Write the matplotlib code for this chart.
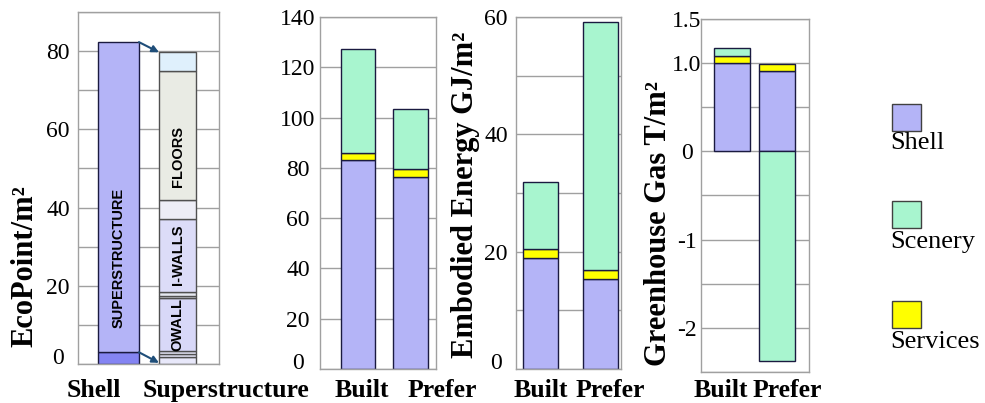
import matplotlib.pyplot as plt
from matplotlib.patches import Rectangle

plt.rcParams['font.family'] = ['Liberation Serif', 'DejaVu Serif']

# panel 1: EcoPoints of the shell and its superstructure breakdown
shell_parts = [3.0, 79.3]
shell_colors = ['#8484f2', '#b4b4f7']
super_parts = [1.9, 0.7, 0.6, 13.6, 0.5, 1.2, 18.7, 4.7, 33.1, 4.7]
super_colors = ['#e8e8fa', '#e8e8fa', '#e8e8fa', '#d8d8f8', '#e6e8f0', '#e6e8f0',
                '#dcdcf8', '#ededf6', '#e9ebe4', '#dff0fc']
super_labels = ['', '', '', 'OWALL', '', '', 'I-WALLS', '', 'FLOORS', '']
super_label_y = [0, 0, 0, 10.2, 0, 0, 28.0, 0, 53.0, 0]

# panels 2-4: Built vs Prefer
categories = ['Built', 'Prefer']
eco_shell = [83.2, 76.3]
eco_services = [2.8, 3.3]
eco_scenery = [41.3, 24.0]
energy_shell = [18.9, 15.3]
energy_services = [1.5, 1.6]
energy_scenery = [11.5, 42.3]
ghg_shell = [1.00, 0.91]
ghg_services = [0.08, 0.08]
ghg_scenery = [0.09, -2.38]

legend_names = ['Shell', 'Scenery', 'Services']
c_shell = '#b4b4f7'
c_scenery = '#a8f5cf'
c_services = '#ffff00'
legend_colors = [c_shell, c_scenery, c_services]

W, H = 985, 403
fig = plt.figure(figsize=(W / 100, H / 100), dpi=100)


def px_axes(x0, x1, y0, y1):
    return fig.add_axes([x0 / W, (H - y1) / H, (x1 - x0) / W, (y1 - y0) / H])


def style(ax, ticks, labels, pad_px):
    ax.set_yticks(ticks)
    ax.set_yticklabels(labels, fontsize=17)
    ax.tick_params(axis='y', length=0, pad=pad_px * 0.72)
    ax.tick_params(axis='x', length=0)
    ax.set_xticks([])
    for lab in ax.get_yticklabels():
        lab.set_horizontalalignment('center')
    # bottom label sits a little above its gridline, as in the original
    ax.get_yticklabels()[0].set_verticalalignment('baseline')
    ax.grid(axis='y', color='#a0a0a0', lw=1)
    ax.set_axisbelow(True)
    for s in ax.spines.values():
        s.set_color('#a0a0a0')
        s.set_linewidth(1)


def stack(ax, shell, services, scenery, width):
    x = range(len(categories))
    ax.bar(x, shell, width, color=c_shell, edgecolor='#1a1a40', lw=1)
    ax.bar(x, services, width, bottom=shell, color=c_services, edgecolor='#1a1a40', lw=1)
    bottoms = [a + b if s > 0 else 0 for a, b, s in zip(shell, services, scenery)]
    ax.bar(x, scenery, width, bottom=bottoms, color=c_scenery, edgecolor='#1a1a40', lw=1)


# ---- panel 1
ax1 = px_axes(78, 219, 12, 364)
bot = 0
for h, c in zip(shell_parts, shell_colors):
    ax1.bar(0, h, 0.695, bottom=bot, color=c, edgecolor='#1a1a40', lw=1)
    bot += h
ax1.text(0, 27, 'SUPERSTRUCTURE', rotation=90, ha='center', va='center',
         family='Liberation Sans', weight='bold', fontsize=10.5)
bot = 0
for h, c, lab, ly in zip(super_parts, super_colors, super_labels, super_label_y):
    ax1.bar(1, h, 0.627, bottom=bot, color=c, edgecolor='#505050', lw=1)
    if lab:
        ax1.text(1, ly, lab, rotation=90, ha='center', va='center',
                 family='Liberation Sans', weight='bold', fontsize=10.5)
    bot += h
arrow = dict(arrowstyle='-|>', color='#1f4e79', lw=1.5, shrinkA=0, shrinkB=0,
             mutation_scale=10)
ax1.annotate('', xy=(0.686, sum(super_parts)), xytext=(0.347, sum(shell_parts)),
             arrowprops=arrow)
ax1.annotate('', xy=(0.686, 0.3), xytext=(0.347, shell_parts[0]), arrowprops=arrow)
ax1.set_xlim(-0.686, 1.703)
ax1.set_ylim(0, 90)
style(ax1, range(0, 91, 10), ['0', '', '20', '', '40', '', '60', '', '80', ''], 20)

# ---- panel 2
ax2 = px_axes(320, 436, 17, 369)
stack(ax2, eco_shell, eco_services, eco_scenery, 0.66)
ax2.set_xlim(-0.724, 1.486)
ax2.set_ylim(0, 140)
style(ax2, range(0, 141, 20), [str(v) for v in range(0, 141, 20)], 22)

# ---- panel 3
ax3 = px_axes(516, 621, 17, 369)
stack(ax3, energy_shell, energy_services, energy_scenery, 0.58)
ax3.set_xlim(-0.408, 1.342)
ax3.set_ylim(0, 60)
style(ax3, range(0, 61, 10), ['0', '', '20', '', '40', '', '60'], 20)

# ---- panel 4
ax4 = px_axes(701, 809, 19, 372)
stack(ax4, ghg_shell, ghg_services, ghg_scenery, 0.8)
ax4.set_xlim(-0.689, 1.711)
ax4.set_ylim(-2.5, 1.5)
g_ticks = [-2.5, -2, -1.5, -1, -0.5, 0, 0.5, 1.0, 1.5]
style(ax4, g_ticks, ['', '-2', '', '-1', '', '0', '', '1.0', '1.5'], 14)

# ---- axis titles
fig.text(25 / W, 1 - 266 / H, 'EcoPoint/m²', rotation=90, ha='center', va='center',
         fontsize=22, weight='bold')
fig.text(466 / W, 1 - 195 / H, 'Embodied Energy GJ/m²', rotation=90, ha='center',
         va='center', fontsize=22, weight='bold')
fig.text(659 / W, 1 - 223 / H, 'Greenhouse Gas T/m²', rotation=90, ha='center',
         va='center', fontsize=22, weight='bold')

# ---- category labels under the panels
bottom_labels = ['Shell', 'Superstructure', 'Built', 'Prefer', 'Built', 'Prefer',
                 'Built', 'Prefer']
bottom_x = [94, 226, 362, 442, 541, 610, 721, 787]
for t, x in zip(bottom_labels, bottom_x):
    fig.text(x / W, 1 - 397 / H, t, ha='center', va='baseline', fontsize=18.5,
             weight='bold')

# ---- legend
leg_box_y = [104, 201, 301]
leg_text_y = [143, 242, 342]
for name, col, by, ty in zip(legend_names, legend_colors, leg_box_y, leg_text_y):
    fig.patches.append(Rectangle((892 / W, 1 - (by + 27) / H), 29 / W, 27 / H,
                                 transform=fig.transFigure, facecolor=col,
                                 edgecolor='#404040', lw=1))
    fig.text(890 / W, 1 - ty / H, name, ha='left', va='center', fontsize=19)

fig.savefig('out.png', dpi=100)
